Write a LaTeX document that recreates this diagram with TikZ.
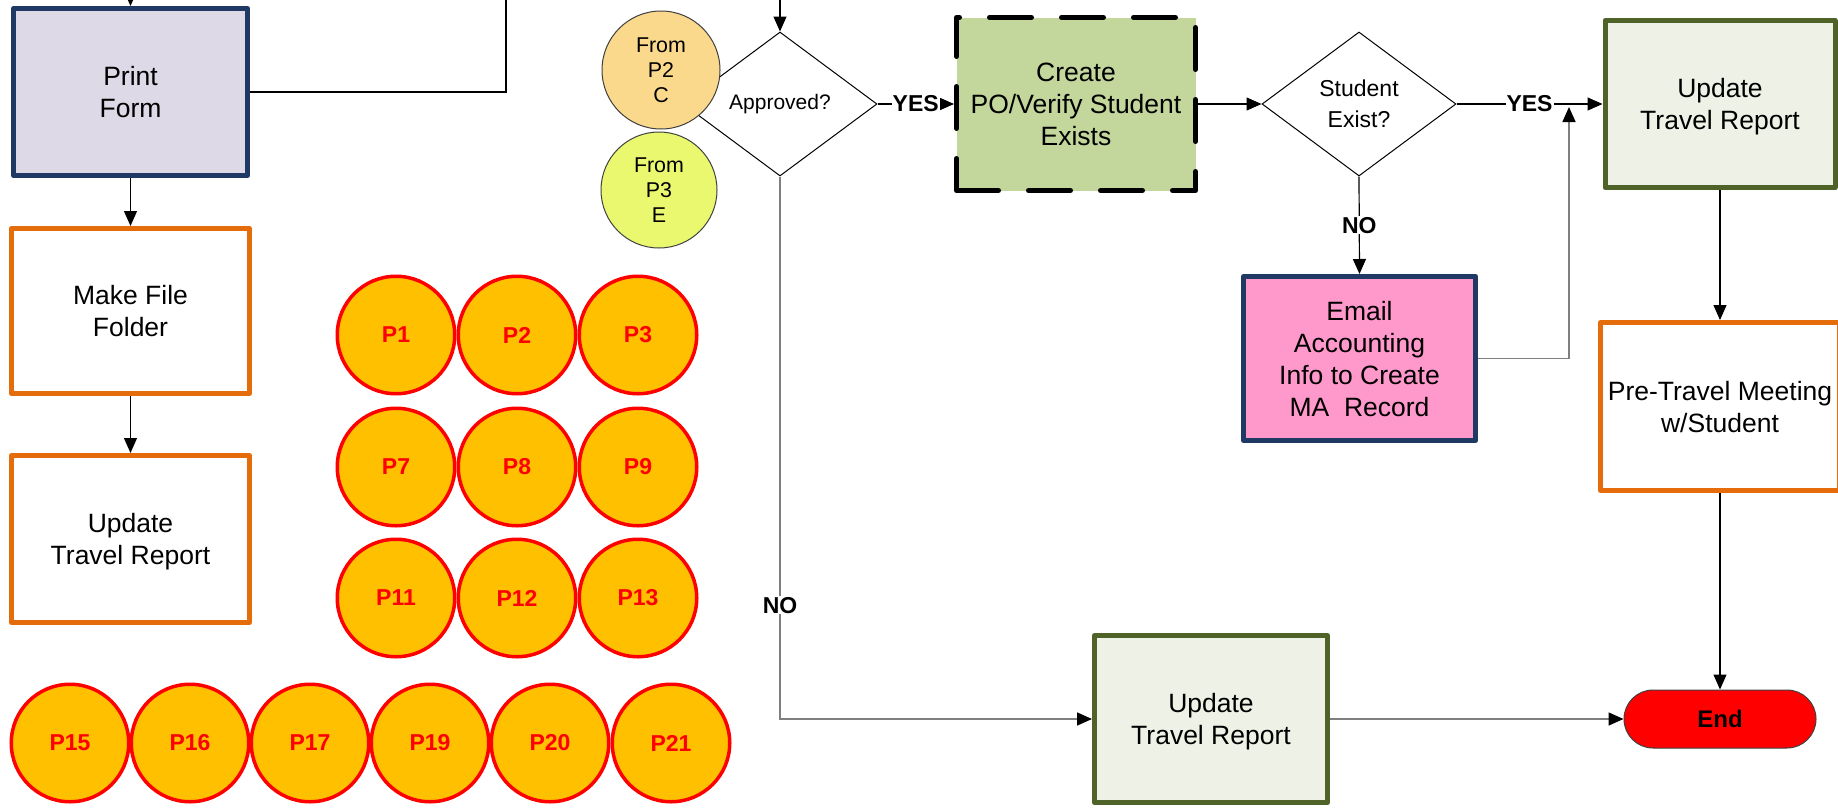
\documentclass[tikz,border=0pt]{standalone}
\usepackage{fontspec}
\setmainfont{Liberation Sans}
\usetikzlibrary{shapes.geometric,arrows.meta}
\definecolor{navyb}{HTML}{1F3864}
\definecolor{lavfill}{HTML}{DDD9E6}
\definecolor{orngb}{HTML}{E46C0A}
\definecolor{pfill}{HTML}{FFC000}
\definecolor{cfill}{HTML}{C3D69B}
\definecolor{ugreen}{HTML}{4F6228}
\definecolor{ufill}{HTML}{EEF2E6}
\definecolor{emailpink}{HTML}{FF99CC}
\definecolor{fromA}{HTML}{FAD98C}
\definecolor{fromB}{HTML}{EAF870}
\definecolor{lgray}{HTML}{7F7F7F}
\definecolor{edgegray}{HTML}{404040}
\begin{document}
\begin{tikzpicture}[x=0.5pt,y=-0.5pt,
  boxtxt/.style={font=\fontsize{13.25}{16}\selectfont, align=center, text=black},
  proc/.style={rectangle, boxtxt, line width=2.5pt, line join=round, inner sep=0pt, text depth=0pt},
  navybox/.style={proc, draw=navyb},
  orangebox/.style={proc, draw=orngb, fill=white},
  greenbox/.style={proc, draw=ugreen, fill=ufill},
  pcirc/.style={circle, draw=red, fill=pfill, line width=1.75pt, minimum size=58.75pt, inner sep=0pt, font=\fontsize{11.5}{13}\selectfont\bfseries, text=red},
  decision/.style={diamond, draw=black, fill=white, line width=0.5pt, minimum width=97pt, minimum height=72pt, inner sep=0pt, align=center},
  fromc/.style={circle, draw=edgegray, line width=0.5pt, inner sep=0pt, align=center, font=\fontsize{10.7}{12.5}\selectfont},
  conn/.style={draw=black, line width=0.6pt, -{Triangle[length=7.5pt,width=6.5pt]}},
  gconn/.style={draw=lgray, line width=0.8pt, -{Triangle[length=7.5pt,width=6.5pt,color=black]}},
  plainline/.style={draw=black, line width=0.6pt},
  lbl/.style={font=\fontsize{11.5}{13}\selectfont\bfseries, fill=white, inner sep=0.5pt},
]
\useasboundingbox[fill=white] (0,0) rectangle (1838,809);

% left column
\node[navybox, fill=lavfill, minimum width=117pt, minimum height=83.5pt] (print) at (130.5,92) {Print\\Form};
\node[orangebox, minimum width=119pt, minimum height=82.5pt] (folder) at (130.5,311) {Make File\\Folder};
\node[orangebox, minimum width=119pt, minimum height=83.5pt] (updL) at (130.5,539) {Update\\Travel Report};

% page connector circles
\foreach \n/\x/\y in {P1/396/335, P2/517/335, P3/638/335,
                      P7/396/467, P8/517/467, P9/638/467,
                      P11/396/598, P12/517/598, P13/638/598,
                      P15/70/743, P16/190/743, P17/310/743, P19/430/743, P20/550/743, P21/671/743}
  \node[pcirc] (\n) at (\x,\y) {\n};

% decisions
\node[decision, font=\fontsize{10.5}{14}\selectfont] (appr) at (780,104) {Approved?};
\node[decision, font=\fontsize{11.5}{15.5}\selectfont] (exist) at (1359,104) {Student\\Exist?};

% off-page references
\node[fromc, fill=fromA, minimum size=59pt] (fromC) at (661,70) {From\\P2\\C};
\node[fromc, fill=fromB, minimum size=58pt] (fromE) at (659,190) {From\\P3\\E};

% process boxes
\node[proc, draw=black, fill=cfill, line cap=round, dash pattern=on 21pt off 15pt, minimum width=119.5pt, minimum height=86.5pt] (create) at (1076,104) {Create\\PO/Verify Student\\Exists};
\node[greenbox, minimum width=115pt, minimum height=83.5pt] (updR) at (1720,104) {Update\\Travel Report};
\node[orangebox, minimum width=119.5pt, minimum height=84pt] (pre) at (1720,406.5) {Pre-Travel Meeting\\w/Student};
\node[navybox, fill=emailpink, minimum width=116pt, minimum height=82pt] (email) at (1359.5,358.5) {Email\\Accounting\\Info to Create\\MA\ \ Record};
\node[greenbox, minimum width=116.5pt, minimum height=83.5pt] (updB) at (1211,719) {Update\\Travel Report};
\node[draw=edgegray, line width=0.5pt, fill=red, rounded corners=14.5pt, minimum width=96pt, minimum height=29pt, inner sep=0pt, font=\fontsize{12}{14}\selectfont\bfseries] (end) at (1720,719) {End};

% free ends
\coordinate (topL) at (130.5,-20);
\coordinate (topR) at (506,-20);
\coordinate (topA) at (780,-20);
\coordinate (join) at (1569,107);

% connectors
\draw[conn] (topL) -- (print.north);
\draw[plainline] (print.east) -| (topR);
\draw[conn] (print.south) -- (folder.north);
\draw[conn] (folder.south) -- (updL.north);
\draw[conn] (topA) -- (appr.north);
\draw[conn] (appr.east) -- node[lbl]{YES} (create.west);
\draw[conn] (create.east) -- (exist.west);
\draw[conn] (exist.east) -- node[lbl]{YES} (updR.west);
\draw[conn] (exist.south) -- node[lbl]{NO} (email.north);
\draw[gconn] (email.east) -| (join);
\draw[conn] (updR.south) -- (pre.north);
\draw[conn] (pre.south) -- (end.north);
\draw[gconn] (appr.south) |- node[lbl, pos=0.395]{NO} (updB.west);
\draw[gconn] (updB.east) -- (end.west);
\end{tikzpicture}
\end{document}
